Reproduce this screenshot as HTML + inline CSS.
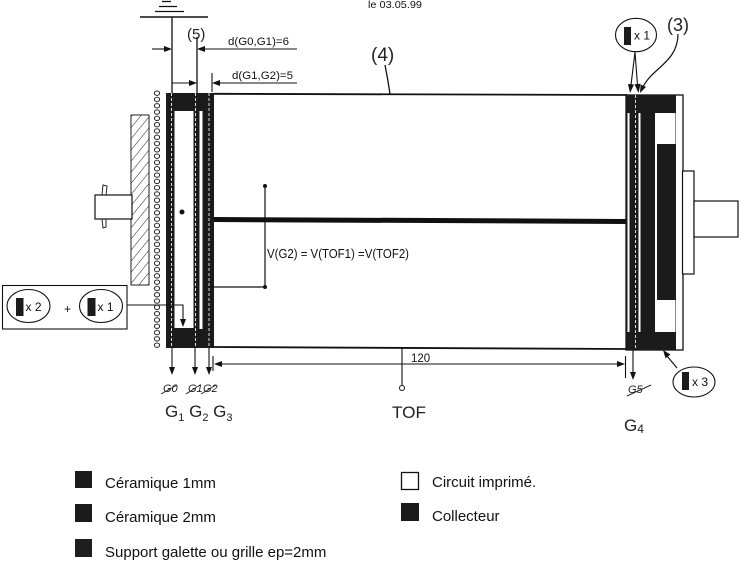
<!DOCTYPE html>
<html><head><meta charset="utf-8"><style>
html,body{margin:0;padding:0;background:#fff;}
svg{display:block;}
text{font-family:"Liberation Sans",Arial,sans-serif;fill:#111;}
.hw{fill:#222;}
</style></head><body>
<svg width="754" height="571" viewBox="0 0 754 571" xmlns="http://www.w3.org/2000/svg">
<defs>
<pattern id="hatch" patternUnits="userSpaceOnUse" width="7" height="7" patternTransform="rotate(39)">
<line x1="0" y1="-1" x2="0" y2="8" stroke="#222" stroke-width="1"/>
</pattern>
<pattern id="chain" patternUnits="userSpaceOnUse" x="152" y="90" width="10" height="6.3">
<ellipse cx="5" cy="3.15" rx="2.6" ry="2.2" fill="none" stroke="#222" stroke-width="1"/>
</pattern>
</defs>
<rect width="754" height="571" fill="#fff"/>

<!-- date -->
<text x="368" y="8" font-size="10.5" textLength="54" lengthAdjust="spacingAndGlyphs">le 03.05.99</text>

<!-- ground symbol -->
<g stroke="#111" stroke-width="1.3">
<line x1="162" y1="1.5" x2="171" y2="1.5"/>
<line x1="159" y1="6.5" x2="177" y2="6.5"/>
<line x1="155" y1="11.5" x2="184" y2="11.5"/>
<line x1="140" y1="17" x2="208" y2="17" stroke-width="1.6"/>
<line x1="172" y1="17" x2="172" y2="93"/>
<line x1="197" y1="37" x2="197" y2="93"/>
</g>
<text class="hw" x="187" y="39" font-size="15">(5)</text>

<!-- dimension arrows top -->
<g stroke="#111" stroke-width="1.1">
<line x1="152" y1="49" x2="165" y2="49"/>
<line x1="204" y1="49" x2="297" y2="49"/>
<line x1="172" y1="83" x2="190" y2="83"/>
<line x1="219" y1="83" x2="297" y2="83"/>
<line x1="212" y1="73" x2="212" y2="92"/>
</g>
<g fill="#111">
<polygon points="172,49 164,46 164,52"/>
<polygon points="197,49 205,46 205,52"/>
<polygon points="197,83 189,80 189,86"/>
<polygon points="212,83 220,80 220,86"/>
</g>
<text x="228" y="45" font-size="11" textLength="61" lengthAdjust="spacingAndGlyphs">d(G0,G1)=6</text>
<text x="232" y="79" font-size="11" textLength="61" lengthAdjust="spacingAndGlyphs">d(G1,G2)=5</text>

<!-- (4) -->
<text class="hw" x="371" y="61" font-size="19">(4)</text>
<path d="M385,65 Q388,80 390,94" fill="none" stroke="#111" stroke-width="1.3"/>

<!-- tube lines -->
<line x1="214" y1="93.8" x2="627" y2="95" stroke="#111" stroke-width="1.8"/>
<line x1="214" y1="347" x2="627" y2="349" stroke="#111" stroke-width="1.8"/>
<!-- rod -->
<line x1="214" y1="219.5" x2="626" y2="221.5" stroke="#111" stroke-width="5"/>

<!-- left hatched plate -->
<rect x="131" y="115" width="18" height="170" fill="url(#hatch)" stroke="#222" stroke-width="1"/>
<!-- chain -->
<rect x="152" y="90" width="10" height="258" fill="url(#chain)"/>
<!-- left shaft -->
<rect x="95" y="195" width="37" height="24" fill="#fff" stroke="#111" stroke-width="1.2"/>
<path d="M102,195 L103,185 L107,186 L106,195" fill="none" stroke="#222" stroke-width="1"/>
<path d="M102,219 L103,228 L106,227 L106,219" fill="none" stroke="#222" stroke-width="1"/>

<!-- left grid block -->
<rect x="166" y="93" width="48" height="255" fill="#1b1b1b"/>
<rect x="174.5" y="111" width="19" height="217" fill="#fff"/>
<rect x="199.5" y="111" width="3" height="218" fill="#fff"/>
<g stroke="#ddd" stroke-width="1" stroke-dasharray="3,2">
<line x1="171.5" y1="93" x2="171.5" y2="348"/>
<line x1="195.5" y1="93" x2="195.5" y2="348"/>
<line x1="209" y1="93" x2="209" y2="348"/>
</g>
<circle cx="182" cy="212" r="2.5" fill="#111"/>

<!-- right block -->
<rect x="626" y="95" width="57" height="255" fill="#fff" stroke="#111" stroke-width="1.3"/>
<rect x="626" y="95" width="50" height="255" fill="#1b1b1b"/>
<rect x="627.5" y="113" width="2" height="219" fill="#fff"/>
<rect x="638.5" y="113" width="2" height="219" fill="#fff"/>
<line x1="635.5" y1="95" x2="635.5" y2="350" stroke="#ddd" stroke-width="1" stroke-dasharray="3,2"/>
<rect x="655" y="113" width="20.5" height="219" fill="#fff"/>
<rect x="657" y="144" width="18.5" height="156" fill="#1b1b1b"/>
<!-- right flange & shaft -->
<rect x="682.5" y="171" width="11.5" height="103" fill="#fff" stroke="#111" stroke-width="1.2"/>
<rect x="694" y="201" width="44" height="36" fill="#fff" stroke="#111" stroke-width="1.2"/>

<!-- V connector -->
<g stroke="#111" stroke-width="1.2">
<line x1="265" y1="186" x2="265" y2="287"/>
<line x1="210" y1="287" x2="265" y2="287"/>
</g>
<circle cx="265" cy="186" r="2" fill="#111"/>
<circle cx="265" cy="287" r="2" fill="#111"/>
<text x="267" y="258" font-size="13" textLength="142" lengthAdjust="spacingAndGlyphs">V(G2) = V(TOF1) =V(TOF2)</text>

<!-- left legend box -->
<rect x="2.5" y="285.5" width="124.5" height="43.5" fill="#fff" stroke="#111" stroke-width="1.1"/>
<ellipse cx="28.5" cy="306" rx="21.5" ry="16.5" fill="none" stroke="#111" stroke-width="1.1"/>
<rect x="16" y="298" width="7.5" height="18" fill="#1b1b1b"/>
<text x="25.5" y="311" font-size="12">x 2</text>
<text x="64" y="313" font-size="12">+</text>
<ellipse cx="101" cy="306" rx="21.5" ry="16.5" fill="none" stroke="#111" stroke-width="1.1"/>
<rect x="87.5" y="298" width="8" height="18" fill="#1b1b1b"/>
<text x="97.5" y="311" font-size="12">x 1</text>
<polyline points="127,305 183,305 183,320" fill="none" stroke="#111" stroke-width="1.1"/>
<polygon points="183,327 180,319 186,319" fill="#111"/>

<!-- down arrows left -->
<g stroke="#111" stroke-width="1.1">
<line x1="172" y1="348" x2="172" y2="368"/>
<line x1="195" y1="348" x2="195" y2="368"/>
<line x1="209" y1="348" x2="209" y2="368"/>
</g>
<g fill="#111">
<polygon points="172,375 169,367 175,367"/>
<polygon points="195,375 192,367 198,367"/>
<polygon points="209,375 206,367 212,367"/>
</g>
<text class="hw" x="163" y="392" font-size="11" font-style="italic">G0</text>
<text class="hw" x="188" y="392" font-size="11" font-style="italic">G1</text>
<text class="hw" x="203" y="392" font-size="11" font-style="italic">G2</text>
<g stroke="#222" stroke-width="1">
<line x1="161" y1="394" x2="177" y2="385"/>
<line x1="186" y1="394" x2="200" y2="385"/>
<line x1="201" y1="394" x2="216" y2="385"/>
</g>
<text class="hw" x="165" y="417" font-size="17">G<tspan font-size="11" dy="4">1</tspan><tspan dy="-4"> G</tspan><tspan font-size="11" dy="4">2</tspan><tspan dy="-4"> G</tspan><tspan font-size="11" dy="4">3</tspan></text>

<!-- 120 dimension -->
<g stroke="#111" stroke-width="1.1">
<line x1="213" y1="356" x2="213" y2="371"/>
<line x1="625.5" y1="356" x2="625.5" y2="378"/>
<line x1="221" y1="364" x2="618" y2="364"/>
<line x1="402" y1="348" x2="402" y2="385"/>
</g>
<polygon points="214,364 222,361 222,367" fill="#111"/>
<polygon points="625,364 617,361 617,367" fill="#111"/>
<circle cx="402" cy="388" r="2.5" fill="#fff" stroke="#111" stroke-width="1"/>
<text x="411" y="362" font-size="11.5">120</text>
<text class="hw" x="392" y="418" font-size="17" textLength="34" lengthAdjust="spacingAndGlyphs">TOF</text>

<!-- right down arrow -->
<line x1="633" y1="350" x2="633" y2="373" stroke="#111" stroke-width="1.1"/>
<polygon points="633,380 630,372 636,372" fill="#111"/>
<text class="hw" x="628" y="393" font-size="11" font-style="italic">G5</text>
<line x1="627" y1="396" x2="651" y2="385" stroke="#222" stroke-width="1"/>
<text class="hw" x="624" y="431" font-size="17">G<tspan font-size="12" dy="2">4</tspan></text>

<!-- x3 ellipse -->
<ellipse cx="694" cy="382" rx="21" ry="15" fill="#fff" stroke="#111" stroke-width="1.1"/>
<rect x="682" y="372" width="7" height="18" fill="#1b1b1b"/>
<text x="692" y="386" font-size="12">x 3</text>
<line x1="677" y1="368" x2="667" y2="356" stroke="#111" stroke-width="1.1"/>
<polygon points="663,350 670.5,354.5 665.5,358.2" fill="#111"/>

<!-- top right x1 ellipse -->
<ellipse cx="636" cy="35" rx="20.5" ry="16.7" fill="#fff" stroke="#111" stroke-width="1.1"/>
<rect x="624" y="27" width="7" height="18" fill="#1b1b1b"/>
<text x="634" y="39.5" font-size="12">x 1</text>
<g stroke="#111" stroke-width="1.1">
<line x1="635" y1="52" x2="631" y2="85"/>
<line x1="635" y1="52" x2="637.5" y2="85"/>
</g>
<polygon points="630,93 628,84 634,84.5" fill="#111"/>
<polygon points="638.5,93 634.5,84.2 640.5,83.8" fill="#111"/>
<!-- (3) -->
<text class="hw" x="667" y="31" font-size="18">(3)</text>
<path d="M678,34 C678,62 652,68 643,87" fill="none" stroke="#111" stroke-width="1.2"/>
<polygon points="640,93 640.6,84.5 646,86.9" fill="#111"/>

<!-- bottom legend -->
<rect x="75" y="471" width="17" height="17" fill="#1b1b1b"/>
<text x="105" y="488" font-size="15">Céramique 1mm</text>
<rect x="75" y="504" width="17" height="18" fill="#1b1b1b"/>
<text x="105" y="522" font-size="15">Céramique 2mm</text>
<rect x="75" y="539" width="17" height="18" fill="#1e1e1e"/>
<text x="105" y="557" font-size="15">Support galette ou grille ep=2mm</text>
<rect x="401.5" y="472.5" width="17" height="17" fill="#fff" stroke="#111" stroke-width="1.3"/>
<text x="432" y="487" font-size="15">Circuit imprimé.</text>
<rect x="401" y="503" width="18" height="18" fill="#1b1b1b"/>
<text x="432" y="521" font-size="15">Collecteur</text>
</svg>
</body></html>
